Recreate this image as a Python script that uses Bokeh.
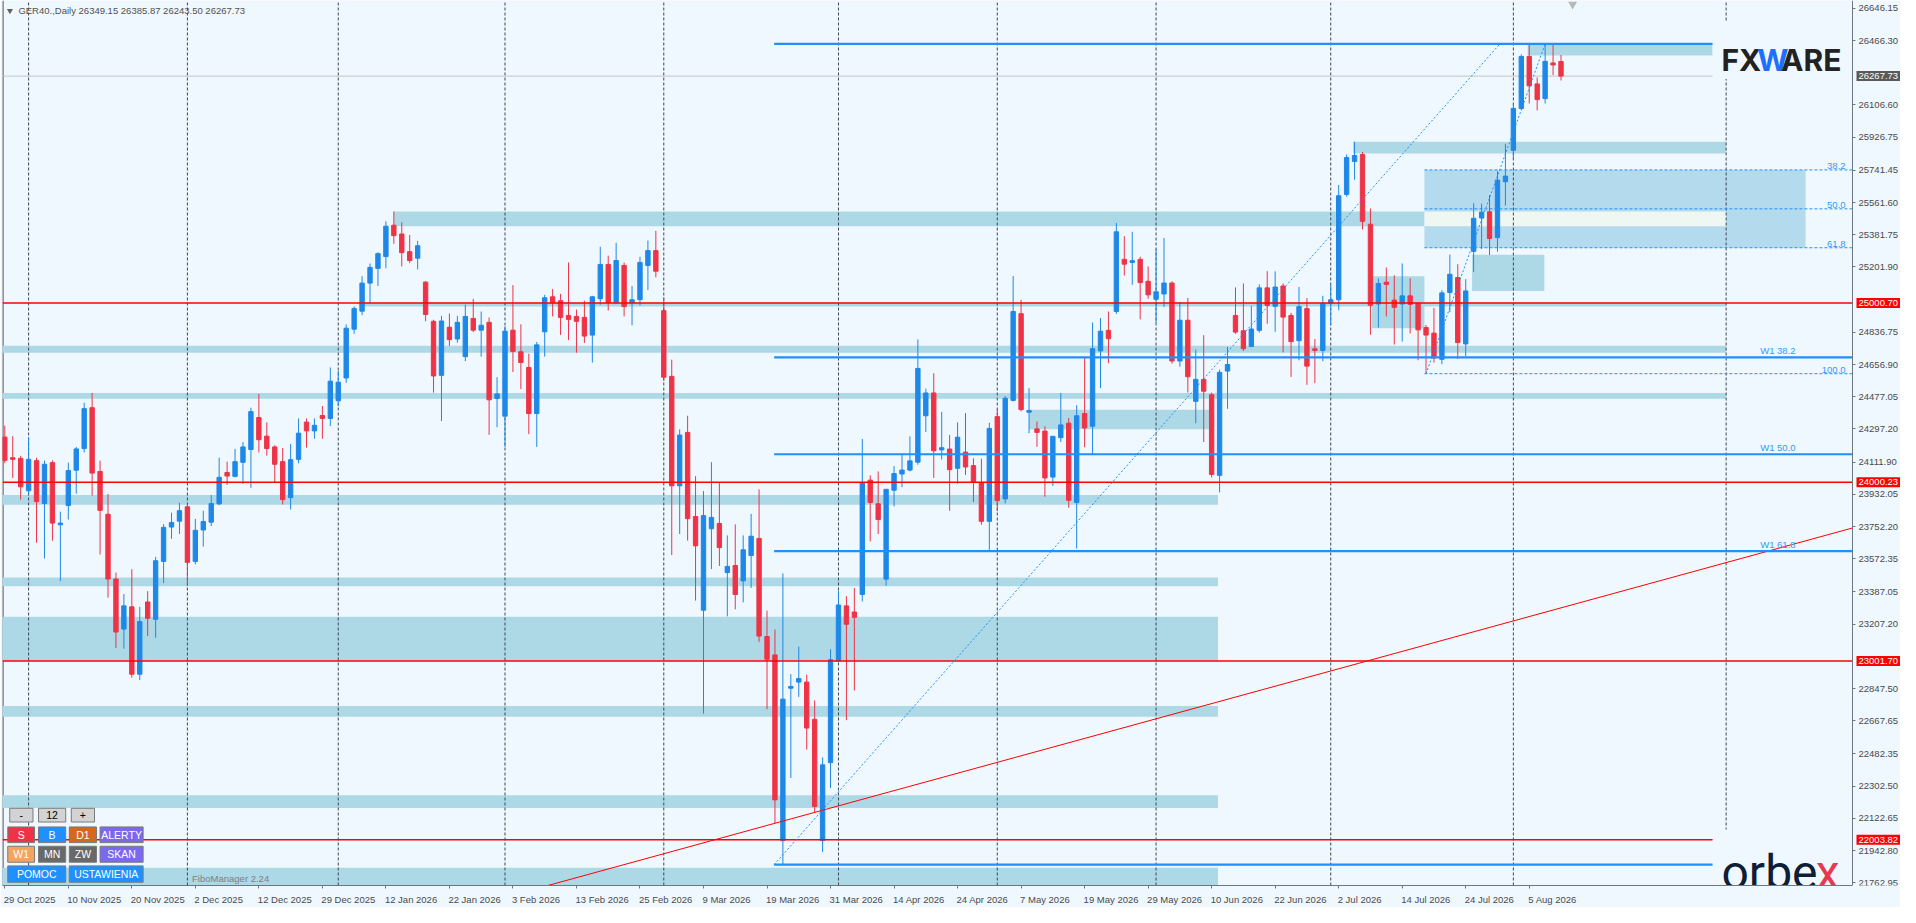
import numpy as np
from bokeh.plotting import figure
from bokeh.models import ColumnDataSource, FixedTicker, PrintfTickFormatter, Label, Range1d
from bokeh.core.properties import value
from bokeh.embed import file_html
from bokeh.resources import INLINE

# ---------------- data ----------------
header_text = "GER40.,Daily  26349.15 26385.87 26243.50 26267.73"

opens = [24251.9, 24136.8, 24133.2, 23952.4, 24120.4, 23881.1, 24109.4, 23762.4, 23870.2, 24067.4,
         24187.9, 24416.2, 24060.1, 23820.9, 23459.3, 23179.8, 23304.0, 22927.8, 23331.4, 23234.6,
         23557.9, 23749.6, 23782.5, 23862.9, 23557.9, 23733.2, 23777.0, 23879.3, 24054.6, 24032.7,
         24111.2, 24182.5, 24361.4, 24257.3, 24197.1, 24114.9, 23914.0, 24127.7, 24335.9, 24286.6,
         24372.4, 24356.0, 24454.6, 24582.4, 24854.5, 24955.0, 25112.1, 25194.2, 25260.0, 25435.3,
         25386.0, 25287.4, 25250.9, 25117.5, 24898.4, 24597.0, 24865.5, 24799.8, 24701.2, 24914.8,
         24849.1, 24892.9, 24467.4, 24368.8, 24849.1, 24728.5, 24640.9, 24383.4, 24840.0, 25035.4,
         25013.5, 24931.3, 24925.8, 24920.3, 24821.7, 25024.4, 25216.2, 25002.5, 25210.7, 25002.5,
         25019.4, 25210.2, 25293.3, 24958.2, 24591.3, 23979.8, 24278.2, 23808.6, 23285.2, 23740.1,
         23769.5, 23495.5, 23534.7, 23449.1, 23590.9, 23686.3, 23138.4, 23035.7, 21998.6, 22849.8,
         22884.0, 22884.0, 22676.1, 21998.6, 22434.0, 23001.4, 23309.6, 23275.4, 23373.2, 24011.6,
         23879.6, 23458.8, 23955.4, 24045.9, 24067.9, 24111.9, 24371.2, 24498.4, 24180.4, 24185.3,
         24077.7, 24168.2, 24092.4, 23997.0, 23781.7, 24366.3, 23906.5, 24456.8, 24941.1, 24390.8,
         24297.8, 24285.6, 24028.8, 24248.9, 24329.6, 23886.9, 24383.4, 24312.5, 24733.2, 24848.2,
         24953.3, 25244.4, 25227.3, 25244.4, 25122.1, 25021.8, 25051.2, 25112.3, 24676.9, 24904.4,
         24451.9, 24574.2, 24488.6, 24038.5, 24620.7, 24931.3, 24845.7, 24757.7, 24848.2, 25085.4,
         24982.4, 25095.6, 24931.3, 24790.6, 24969.6, 24745.0, 24735.8, 25000.6, 25018.9, 25607.0,
         25791.4, 25829.8, 25440.8, 24995.2, 25117.5, 25017.1, 24995.2, 25040.8, 24998.8, 24863.7,
         24832.6, 24686.5, 25059.1, 25143.1, 24772.4, 25289.2, 25475.5, 25510.2, 25365.9, 25678.2,
         25853.5, 26087.3, 26377.7, 26224.3, 26142.1, 26341.2, 26349.15]
highs = [24315.8, 24257.3, 24147.8, 24251.9, 24136.8, 24120.4, 24122.2, 23835.5, 24109.4, 24197.1,
         24443.6, 24498.4, 24120.4, 23934.1, 23495.8, 23375.2, 23514.0, 23304.0, 23391.7, 23583.4,
         23766.1, 23830.0, 23884.8, 23877.5, 23795.3, 23841.0, 23928.6, 24136.8, 24114.9, 24186.1,
         24224.5, 24416.2, 24493.0, 24334.0, 24206.2, 24191.6, 24213.5, 24356.0, 24356.0, 24356.0,
         24425.4, 24640.9, 24620.8, 24881.9, 24982.4, 25150.4, 25221.6, 25283.7, 25457.2, 25512.0,
         25451.7, 25380.5, 25347.6, 25123.0, 24907.5, 24929.4, 24942.2, 24929.4, 24991.5, 25024.4,
         24953.2, 24920.3, 24586.1, 24871.0, 25101.1, 24881.9, 24717.6, 24783.3, 25046.3, 25079.2,
         25051.8, 25227.1, 24964.1, 25013.5, 25040.8, 25314.8, 25265.5, 25336.7, 25227.1, 25095.6,
         25259.1, 25349.6, 25403.4, 25031.6, 24684.3, 24295.4, 24371.2, 24033.7, 23950.5, 24111.9,
         23999.4, 23703.4, 23764.6, 23703.4, 23823.3, 23960.3, 23282.7, 23177.6, 23490.6, 22928.2,
         23082.2, 22925.6, 22781.3, 22463.3, 23067.5, 23392.8, 23363.4, 23409.9, 24241.6, 24038.5,
         24060.6, 23960.3, 24089.9, 24156.0, 24256.2, 24796.8, 24522.9, 24608.5, 24393.2, 24263.6,
         24334.5, 24385.9, 24133.9, 24131.5, 24332.1, 24407.9, 24481.3, 25151.5, 25019.4, 24525.3,
         24339.4, 24312.5, 24256.2, 24498.4, 24359.0, 24429.9, 24694.1, 24892.2, 24916.7, 24953.3,
         25447.4, 25374.1, 25398.5, 25259.1, 25205.3, 25300.7, 25364.3, 25122.1, 25007.2, 25029.2,
         24740.5, 24821.3, 24500.8, 24628.0, 24755.2, 25087.9, 25109.9, 24985.1, 25105.0, 25178.4,
         25177.8, 25110.2, 24945.9, 25090.1, 25028.0, 24799.8, 25040.8, 25101.1, 25659.9, 25829.8,
         25901.0, 25844.4, 25528.5, 25137.6, 25199.7, 25155.9, 25221.6, 25139.4, 24998.8, 24878.3,
         24973.3, 25071.9, 25270.9, 25218.0, 25134.0, 25557.7, 25555.8, 25603.3, 25736.6, 25890.1,
         26114.7, 26388.6, 26446.0, 26260.8, 26446.0, 26446.0, 26385.87]
lows = [24105.8, 24023.6, 23903.0, 23935.9, 23662.0, 23574.3, 23672.9, 23448.3, 23791.6, 23935.9,
        24166.0, 23925.0, 23596.2, 23355.2, 23073.9, 23070.3, 22907.7, 22894.9, 23141.5, 23130.5,
        23437.3, 23683.9, 23711.3, 23420.9, 23541.4, 23640.1, 23755.1, 23872.0, 23985.2, 24027.2,
        23990.7, 23968.8, 24166.0, 24147.8, 23999.8, 23875.6, 23848.3, 24105.8, 24193.4, 24242.7,
        24242.7, 24314.0, 24423.6, 24555.0, 24828.9, 24933.1, 25000.7, 25095.6, 25194.2, 25331.2,
        25205.2, 25223.5, 25188.8, 24898.4, 24500.2, 24341.3, 24761.4, 24779.7, 24675.6, 24838.1,
        24701.2, 24264.7, 24306.7, 24197.1, 24615.3, 24520.3, 24268.3, 24197.1, 24701.2, 24925.8,
        24821.7, 24794.3, 24723.1, 24777.8, 24668.3, 24991.5, 24958.6, 24997.0, 24925.8, 24876.5,
        24987.6, 25073.2, 25144.1, 24566.9, 23593.4, 23710.8, 23674.1, 23339.0, 22707.9, 23515.1,
        23532.2, 23250.9, 23290.1, 23329.2, 23409.9, 23109.1, 22732.4, 22096.4, 21864.0, 22348.4,
        22800.9, 22507.3, 22157.6, 21935.0, 22292.1, 23001.4, 22671.2, 22837.6, 23334.1, 23669.2,
        23710.8, 23422.2, 23864.9, 23972.5, 24060.6, 24097.2, 24280.7, 24023.9, 24126.6, 23840.4,
        23992.1, 24041.0, 23889.3, 23762.1, 23617.8, 23838.0, 23882.0, 24451.9, 24395.7, 24273.4,
        24197.5, 23918.7, 23979.8, 24224.4, 23857.5, 23630.1, 24195.1, 24156.0, 24525.3, 24664.7,
        24940.0, 25153.9, 25102.6, 24909.3, 25024.3, 24889.8, 24977.8, 24662.3, 24645.2, 24500.8,
        24329.6, 24224.4, 24026.3, 23943.1, 24410.3, 24828.6, 24733.2, 24757.7, 24835.9, 24884.9,
        24839.9, 24724.9, 24587.9, 24681.0, 24544.1, 24553.2, 24675.6, 24876.4, 24960.5, 25594.2,
        25689.2, 25411.6, 24823.5, 24863.7, 24925.8, 24768.7, 24785.1, 24830.8, 24681.0, 24606.0,
        24668.2, 24659.1, 24949.5, 24688.4, 24703.0, 25174.1, 25302.0, 25269.1, 25287.4, 25544.9,
        25804.2, 26078.2, 26114.7, 26076.3, 26114.7, 26273.6, 26243.50]
closes = [24122.2, 24127.7, 23974.3, 24127.7, 23892.1, 24100.3, 23771.6, 23771.6, 24065.6, 24186.1,
          24410.8, 24051.0, 23842.8, 23459.3, 23163.4, 23309.5, 22927.8, 23221.8, 23240.1, 23561.5,
          23747.8, 23775.2, 23841.0, 23552.4, 23731.4, 23780.7, 23881.1, 24027.2, 24034.5, 24114.9,
          24197.1, 24394.3, 24237.3, 24187.9, 24100.3, 23903.0, 24125.8, 24273.8, 24286.6, 24317.6,
          24356.0, 24564.2, 24558.7, 24860.0, 24969.6, 25112.1, 25199.7, 25276.4, 25429.8, 25376.9,
          25281.9, 25238.1, 25320.3, 24936.7, 24593.4, 24900.2, 24796.1, 24892.9, 24925.8, 24849.1,
          24876.5, 24460.1, 24492.9, 24843.6, 24730.4, 24668.3, 24383.4, 24766.9, 25029.9, 25002.5,
          24920.3, 24909.3, 24898.4, 24816.2, 25035.4, 25216.2, 25002.5, 25238.1, 24980.6, 25018.9,
          25227.3, 25293.3, 25178.4, 24586.4, 23979.8, 24263.6, 23796.4, 23644.7, 23813.5, 23803.7,
          23635.0, 23529.8, 23373.2, 23622.7, 23698.5, 23140.9, 23011.2, 22226.1, 22788.6, 22859.6,
          22903.6, 22627.2, 22189.4, 22421.7, 23008.8, 23314.5, 23206.9, 23246.0, 23997.0, 23886.9,
          23791.5, 23960.3, 24048.3, 24067.9, 24119.3, 24635.4, 24498.4, 24175.5, 24192.6, 24070.3,
          24251.3, 24085.0, 23999.4, 23781.7, 24300.3, 23896.7, 24469.0, 24953.3, 24405.4, 24400.6,
          24278.2, 24023.9, 24256.2, 24319.8, 23899.1, 24371.2, 24302.7, 24745.4, 24843.3, 24801.7,
          25398.5, 25217.5, 25237.1, 25114.8, 25046.3, 25063.4, 25112.3, 24676.9, 24904.4, 24588.9,
          24574.2, 24508.2, 24043.4, 24613.4, 24657.4, 24838.4, 24745.4, 24855.5, 25085.4, 24987.6,
          25090.1, 24922.1, 24785.1, 24980.6, 24648.2, 24735.8, 24998.8, 25018.9, 25599.7, 25813.4,
          25824.3, 25457.2, 24987.9, 25110.2, 25104.7, 24976.9, 25040.8, 24993.3, 24850.9, 24821.7,
          24693.8, 25057.3, 25161.4, 24779.7, 25068.2, 25473.7, 25508.4, 25360.4, 25687.3, 25709.3,
          26087.3, 26377.7, 26213.3, 26136.6, 26350.3, 26330.2, 26267.73]

date_tick_bars = list(range(0, 193, 8))
date_tick_labels = ["29 Oct 2025", "10 Nov 2025", "20 Nov 2025", "2 Dec 2025", "12 Dec 2025",
                    "29 Dec 2025", "12 Jan 2026", "22 Jan 2026", "3 Feb 2026", "13 Feb 2026",
                    "25 Feb 2026", "9 Mar 2026", "19 Mar 2026", "31 Mar 2026", "14 Apr 2026",
                    "24 Apr 2026", "7 May 2026", "19 May 2026", "29 May 2026", "10 Jun 2026",
                    "22 Jun 2026", "2 Jul 2026", "14 Jul 2026", "24 Jul 2026", "5 Aug 2026"]
month_grid_bars = [3, 23, 42, 63, 83, 105, 125, 145, 167, 190, 216.8]
price_ticks = [21762.95, 21942.80, 22122.65, 22302.50, 22482.35, 22667.65, 22847.50, 23207.20,
               23387.05, 23572.35, 23752.20, 23932.05, 24111.90, 24297.20, 24477.05, 24656.90,
               24836.75, 25201.90, 25381.75, 25561.60, 25741.45, 25926.75, 26106.60, 26466.30,
               26646.15]
current_price = 26267.73
red_levels = [25000.70, 24000.23, 23001.70, 22003.82]

# supply/demand zones (bar index from/to, price top/bottom)
zone_left = [191.8, 169.8, 49.0, 44.6, -1, -1, 129.0, -1, -1, -1, -1, -1, -1, 172.2, 184.8]
zone_right = [215.1, 216.8, 178.8, 216.8, 216.8, 216.8, 152.2, 152.8, 152.8, 152.8, 152.8, 152.8, 152.8, 178.8, 193.9]
zone_top = [26443.4, 25901.0, 25512.0, 25002.5, 24761.4, 24498.4, 24405.3, 23928.6, 23468.3, 23249.2,
            22750.6, 22252.0, 21846.6, 25150.4, 25270.9]
zone_bottom = [26383.2, 25835.3, 25429.8, 24980.6, 24723.1, 24465.5, 24295.7, 23873.8, 23419.0, 23002.6,
               22690.3, 22180.8, 21700.0, 24860.0, 25068.2]
band_left, band_right, band_top, band_bottom = 178.8, 216.8, 25512.0, 25429.8

# weekly fibonacci (W1)
w1_high, w1_low = 26447.3, 21865.0
w1_from_bar, w1_diag_bars = 96.9, [96.9, 188.3]
w1_levels = [0.0, 0.382, 0.5, 0.618, 1.0]
w1_labels = ["", "W1 38.2", "W1 50.0", "W1 61.8", ""]
# FiboManager fibonacci
fib_high, fib_low = 26447.3, 24606.0
fib_from_bar, fib_box_to_bar, fib_diag_bars = 178.8, 226.8, [179, 194]
fib_levels = [0.382, 0.5, 0.618, 1.0]
fib_labels = ["38.2", "50.0", "61.8", "100.0"]
# red trend line anchors
trend_bars = [60.0, 200.0]
trend_prices = [21646.0, 23347.0]

# ---------------- figure ----------------
BG = "#F0F8FF"
UP, DOWN = "#1E88E8", "#EF3346"
AXC = "#6B7785"
FONT = "Liberation Sans"
FIG_W, FIG_H = 1900, 907
BORDER_L, BORDER_B = 2, 20
frame_w = FIG_W - BORDER_L
x_start = -0.2875
axis_x = 232.7125                      # bar position of the price scale
px_per_bar = (frame_w - 48) / (axis_x - x_start)
x_end = x_start + frame_w / px_per_bar
y_start, y_end = 21748.0, 26690.0

p = figure(width=FIG_W, height=FIG_H, x_range=Range1d(x_start, x_end), y_range=Range1d(y_start, y_end),
           output_backend="svg", toolbar_location=None, y_axis_location="right",
           min_border_left=BORDER_L, min_border_right=0, min_border_top=0, min_border_bottom=BORDER_B)
p.background_fill_color = BG
p.border_fill_color = BG
p.grid.visible = False
p.outline_line_color = None


def rx(px):
    return x_start + (px - 2.0) / 8.0


def ry(py):
    return y_end - py / 902.0 * (y_end - y_start)


# price axis, fixed at the right edge of the chart area
p.yaxis.fixed_location = axis_x
p.yaxis.ticker = FixedTicker(ticks=price_ticks)
p.yaxis.formatter = PrintfTickFormatter(format="%.2f")
p.yaxis.major_label_text_font = FONT
p.yaxis.major_label_text_font_size = "9.5px"
p.yaxis.major_label_text_color = "#4A4A4A"
p.yaxis.major_tick_out = 3
p.yaxis.major_tick_in = 0
p.yaxis.minor_tick_out = 0
p.yaxis.minor_tick_in = 0
p.yaxis.major_label_standoff = 3
p.yaxis.axis_line_color = AXC
p.yaxis.major_tick_line_color = AXC

# time axis: tick marks at the dates (minor), labels starting at the tick (shifted major ticks)
char_w = {" ": 278, "0": 556, "1": 556, "2": 556, "3": 556, "4": 556, "5": 556, "6": 556, "7": 556,
          "8": 556, "9": 556, "O": 778, "c": 500, "t": 278, "N": 722, "o": 556, "v": 500, "D": 722,
          "e": 556, "J": 500, "a": 556, "n": 556, "F": 611, "b": 556, "M": 833, "r": 333, "A": 667,
          "p": 556, "y": 500, "u": 556, "l": 222, "g": 556}
DATE_FS = 9.5
label_pos = []
overrides = {}
for b, s in zip(date_tick_bars, date_tick_labels):
    w = sum(char_w.get(ch, 556) for ch in s) / 1000.0 * DATE_FS
    pos = round(b + (w / 2.0 - 1.0) / px_per_bar, 3)
    label_pos.append(pos)
    overrides[pos] = s
p.xaxis.ticker = FixedTicker(ticks=label_pos, minor_ticks=date_tick_bars)
p.xaxis.major_label_overrides = overrides
p.xaxis.bounds = (x_start, axis_x)
p.xaxis.major_label_text_font = FONT
p.xaxis.major_label_text_font_size = "%spx" % DATE_FS
p.xaxis.major_label_text_color = "#4A4A4A"
p.xaxis.major_label_standoff = 5
p.xaxis.major_tick_out = 0
p.xaxis.major_tick_in = 0
p.xaxis.minor_tick_out = 3
p.xaxis.minor_tick_in = 0
p.xaxis.axis_line_color = AXC
p.xaxis.minor_tick_line_color = AXC

# left border
p.segment(x0=[x_start], y0=[y_start], x1=[x_start], y1=[y_end], line_color=AXC, line_width=2.5)

# zones
p.quad(left=zone_left, right=zone_right, top=zone_top, bottom=zone_bottom,
       fill_color="#ADD8E6", line_color=None)
fib_price = [fib_high - lv * (fib_high - fib_low) for lv in fib_levels]
p.quad(left=[fib_from_bar], right=[fib_box_to_bar], top=[fib_price[0]], bottom=[fib_price[2]],
       fill_color="#B4DAEE", line_color=None)
p.quad(left=[band_left], right=[band_right], top=[band_top], bottom=[band_bottom],
       fill_color="#EEF7F1", line_color=None)

# month grid
p.segment(x0=month_grid_bars, y0=[y_start] * len(month_grid_bars), x1=month_grid_bars,
          y1=[y_end] * len(month_grid_bars), line_color="#3A4654", line_dash="3 2", line_width=1)

# current price line
p.segment(x0=[x_start], y0=[current_price], x1=[axis_x], y1=[current_price], line_color="#C4C4C4", line_width=1)

# candles
o = np.array(opens); h = np.array(highs); l = np.array(lows); c = np.array(closes)
idx = np.arange(len(o))
cols = np.where(c >= o, UP, DOWN)
src = ColumnDataSource(dict(x=idx, h=h, l=l, top=np.maximum(o, c), bot=np.minimum(o, c), col=cols))
p.segment(x0="x", y0="h", x1="x", y1="l", line_color="col", line_width=1, source=src)
p.vbar(x="x", width=0.55, top="top", bottom="bot", fill_color="col", line_color="col", line_width=1, source=src)

# red horizontal levels
for lv in red_levels:
    p.segment(x0=[x_start], y0=[lv], x1=[axis_x], y1=[lv], line_color="#FF0000", line_width=1.4)

# red trend line, extended to the price scale
slope = (trend_prices[1] - trend_prices[0]) / (trend_bars[1] - trend_bars[0])
p.line(x=[trend_bars[0], axis_x], y=[trend_prices[0], trend_prices[0] + slope * (axis_x - trend_bars[0])],
       line_color="#FF0000", line_width=1)

# W1 fibonacci levels
w1_price = [w1_high - lv * (w1_high - w1_low) for lv in w1_levels]
for pr, lab in zip(w1_price, w1_labels):
    p.segment(x0=[w1_from_bar], y0=[pr], x1=[axis_x], y1=[pr], line_color="#1E90FF", line_width=2.2)
    if lab:
        p.text(x=[rx(1773)], y=[pr], text=[lab], text_color="#3399FF", text_font=value(FONT),
               text_font_size="9.5px", text_align="left", text_baseline="bottom", y_offset=-1)
p.line(x=w1_diag_bars, y=[w1_low, w1_high], line_color="#1E90FF", line_width=1, line_dash="2 2")

# FiboManager levels
for pr, lab in zip(fib_price, fib_labels):
    p.segment(x0=[fib_from_bar], y0=[pr], x1=[axis_x], y1=[pr], line_color="#1E90FF", line_width=1, line_dash="3 2")
    p.text(x=[rx(1859)], y=[pr], text=[lab], text_color="#3399FF", text_font=value(FONT),
           text_font_size="9.5px", text_align="right", text_baseline="bottom", y_offset=-1)
p.line(x=fib_diag_bars, y=[fib_low, fib_high], line_color="#1E90FF", line_width=1, line_dash="2 2")

# logo covers
p.quad(left=[rx(1725)], right=[axis_x], top=[ry(22)], bottom=[ry(80)], fill_color=BG, line_color=None)
p.quad(left=[rx(1725)], right=[axis_x], top=[ry(845)], bottom=[y_start - 50], fill_color=BG, line_color=None)

# FXWARE logo
for s, xx, col in [("FX", 1734, "#222222"), ("W", 1770, "#1E6FFF"), ("ARE", 1794, "#222222")]:
    p.text(x=[rx(xx)], y=[ry(61)], text=[s], text_color=col, text_font=value("Inter"),
           text_font_size="30px", text_font_style="bold", text_align="left", text_baseline="alphabetic")
# orbex logo
for s, xx, col in [("orbe", 1734, "#0F1E36"), ("x", 1829, "#E8384F")]:
    p.text(x=[rx(xx)], y=[ry(889)], text=[s], text_color=col, text_font=value("Roboto"),
           text_font_size="48px", text_align="left", text_baseline="alphabetic")

# header
p.scatter(x=[rx(9.5)], y=[ry(10.5)], marker="inverted_triangle", size=6, fill_color="#606060", line_color=None)
p.text(x=[rx(18)], y=[ry(10.7)], text=[header_text], text_color="#505050", text_font=value(FONT),
       text_font_size="9.5px", text_align="left", text_baseline="middle")
p.scatter(x=[rx(1584)], y=[ry(4)], marker="inverted_triangle", size=9, fill_color="#B8B8B8", line_color=None)

# control buttons
buttons = [("-", 9.3, 32.7, 823.3, 837.3, "#D3D3D3", "#000000"),
           ("12", 38.3, 65.7, 823.3, 837.3, "#D3D3D3", "#000000"),
           ("+", 71.3, 94.7, 823.3, 837.3, "#D3D3D3", "#000000"),
           ("S", 7.3, 34.3, 842.3, 858.3, "#EE3347", "#FFFFFF"),
           ("B", 38.3, 65.7, 842.3, 858.3, "#1E90FF", "#FFFFFF"),
           ("D1", 69.3, 96.7, 842.3, 858.3, "#D2691E", "#FFFFFF"),
           ("ALERTY", 100.3, 143.7, 842.3, 858.3, "#7B68EE", "#FFFFFF"),
           ("W1", 7.3, 34.3, 862.0, 878.3, "#F4A460", "#FFFFFF"),
           ("MN", 38.3, 65.7, 862.0, 878.3, "#696969", "#FFFFFF"),
           ("ZW", 69.3, 96.7, 862.0, 878.3, "#696969", "#FFFFFF"),
           ("SKAN", 100.3, 143.7, 862.0, 878.3, "#7B68EE", "#FFFFFF"),
           ("POMOC", 7.3, 65.7, 882.0, 898.7, "#1E90FF", "#FFFFFF"),
           ("USTAWIENIA", 69.3, 143.7, 882.0, 898.7, "#1E90FF", "#FFFFFF")]
bsrc = ColumnDataSource(dict(
    l=[rx(b[1]) for b in buttons], r=[rx(b[2]) for b in buttons],
    t=[ry(b[3]) for b in buttons], b=[ry(b[4]) for b in buttons],
    cx=[rx((b[1] + b[2]) / 2) for b in buttons], cy=[ry((b[3] + b[4]) / 2) for b in buttons],
    txt=[b[0] for b in buttons], fill=[b[5] for b in buttons], tc=[b[6] for b in buttons]))
p.quad(left="l", right="r", top="t", bottom="b", fill_color="fill", line_color="#7A7A7A", line_width=1, source=bsrc)
p.text(x="cx", y="cy", text="txt", text_color="tc", text_font=value(FONT), text_font_size="10.5px",
       text_align="center", text_baseline="middle", source=bsrc)

p.text(x=[rx(193)], y=[ry(895)], text=["FiboManager 2.24"], text_color="#7F7F7F", text_font=value(FONT),
       text_font_size="9.5px", text_align="left", text_baseline="middle")

# price tags on the price scale
tags = [(current_price, "#5A5A5A")] + [(lv, "#FF0000") for lv in red_levels]
for pr, bg in tags:
    p.add_layout(Label(x=axis_x, y=pr, x_offset=4, text="%.2f" % pr, text_align="left", text_baseline="middle",
                       text_font=FONT, text_font_size="9.5px", text_color="#FFFFFF",
                       background_fill_color=bg, padding=2))

open("out.html", "w").write(file_html(p, INLINE))
